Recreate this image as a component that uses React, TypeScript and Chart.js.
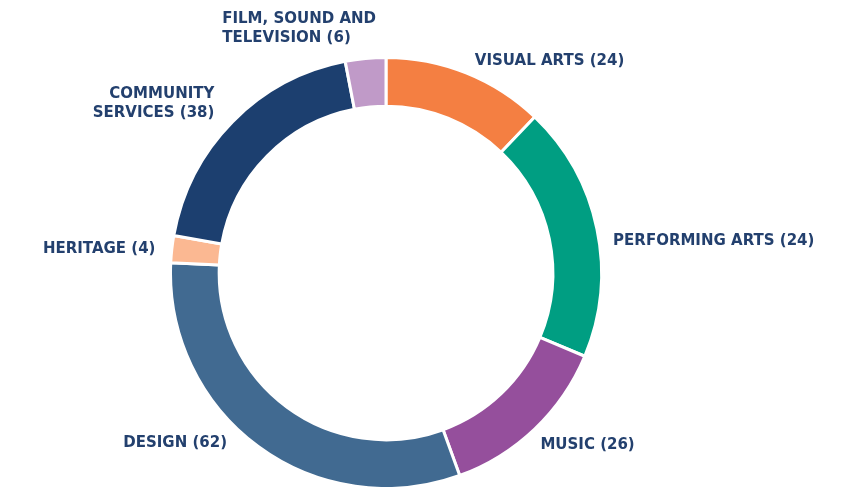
import React, { useEffect, useRef } from "react";
import { Chart, registerables } from "chart.js";

Chart.register(...registerables);

// Categories (in drawing order, clockwise from 12 o'clock)
const categories = [
  "Visual Arts",
  "Performing Arts",
  "Music",
  "Design",
  "Heritage",
  "Community Services",
  "Film, Sound and Television",
];

// Arc sizes
const arcValues = [24, 38, 26, 62, 4, 38, 6];

// Label texts as printed in the picture
const labelLines = [
  ["VISUAL ARTS (24)"],
  ["PERFORMING ARTS (24)"],
  ["MUSIC (26)"],
  ["DESIGN (62)"],
  ["HERITAGE (4)"],
  ["COMMUNITY", "SERVICES (38)"],
  ["FILM, SOUND AND", "TELEVISION (6)"],
];

const colors = [
  "#F47F42",
  "#009E82",
  "#954F9C",
  "#416A91",
  "#FBB892",
  "#1C3F6F",
  "#C09AC8",
];

// label layout tweaks (dx, dy) relative to the radial anchor, and line alignment
const labelNudge: [number, number][] = [
  [3, 2.5],
  [1, 15.5],
  [-5, 4.5],
  [-22, -15.5],
  [-1, 1.5],
  [-7, -7.5],
  [12, -14.5],
];
const lineAlign = ["left", "left", "left", "right", "right", "right", "left"];

const TEXT_COLOR = "#23406E";
const FONT = "bold 15px 'DejaVu Sans'";
const LINE_H = 19;

const outsideLabels = {
  id: "outsideLabels",
  afterDraw(chart: any) {
    const meta = chart.getDatasetMeta(0);
    const ctx = chart.ctx as CanvasRenderingContext2D;
    ctx.save();
    ctx.font = FONT;
    ctx.fillStyle = TEXT_COLOR;
    ctx.textBaseline = "middle";
    meta.data.forEach((arc: any, i: number) => {
      const { x, y, startAngle, endAngle, outerRadius } = arc.getProps(
        ["x", "y", "startAngle", "endAngle", "outerRadius"],
        true
      );
      const mid = (startAngle + endAngle) / 2;
      const r = outerRadius + 15.5;
      const ax = x + Math.cos(mid) * r + labelNudge[i][0];
      const ay = y + Math.sin(mid) * r + labelNudge[i][1];
      const right = Math.cos(mid) >= 0 && i !== 6;
      const lines = labelLines[i];
      const widths = lines.map((l) => ctx.measureText(l).width);
      const bw = Math.max(...widths);
      const left = right ? ax : ax - bw;
      const top = ay - ((lines.length - 1) * LINE_H) / 2;
      lines.forEach((l, j) => {
        const ly = top + j * LINE_H;
        if (lineAlign[i] === "left") {
          ctx.textAlign = "left";
          ctx.fillText(l, left, ly);
        } else {
          ctx.textAlign = "right";
          ctx.fillText(l, left + bw, ly);
        }
      });
    });
    ctx.restore();
  },
};

export default function App() {
  const ref = useRef<HTMLCanvasElement>(null);
  useEffect(() => {
    document.body.style.margin = "0";
    const chart = new Chart(ref.current!, {
      type: "doughnut",
      data: {
        labels: categories,
        datasets: [
          {
            data: arcValues,
            backgroundColor: colors,
            borderColor: "#ffffff",
            borderWidth: 3,
            hoverOffset: 0,
          },
        ],
      },
      options: {
        responsive: false,
        animation: false,
        radius: 215.5,
        cutout: 164.5,
        layout: { padding: { left: 172, right: 250, top: 59, bottom: 0 } },
        plugins: {
          legend: { display: false },
          tooltip: { enabled: false },
        },
      },
      plugins: [outsideLabels],
    });
    return () => chart.destroy();
  }, []);
  return (
    <div style={{ position: "absolute", left: 0, top: 0, width: 850, height: 487 }}>
      <canvas ref={ref} width={850} height={487} />
    </div>
  );
}
